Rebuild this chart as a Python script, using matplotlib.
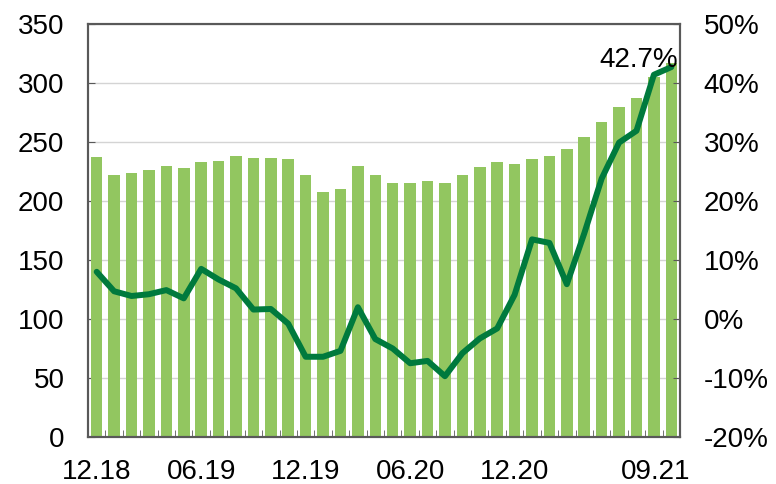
import matplotlib
matplotlib.use("Agg")
import matplotlib.pyplot as plt
import numpy as np

plt.rcParams['font.family'] = ['Liberation Sans', 'DejaVu Sans']

# monthly values, 12.18 .. 09.21
bar_values = [237, 222, 223.5, 226, 230, 228, 233, 234, 238.5, 236.5, 236.5, 236,
              222, 207.5, 210.5, 230, 222, 215.5, 215.5, 217, 215.5, 222, 228.5, 233,
              231, 235.5, 238, 244, 254, 267, 280, 287, 305, 317]
yoy_pct = [8.0, 4.7, 3.9, 4.2, 4.9, 3.5, 8.5, 6.7, 5.2, 1.6, 1.7, -0.8,
           -6.4, -6.4, -5.4, 2.0, -3.4, -5.0, -7.5, -7.1, -9.7, -5.8, -3.3, -1.6,
           4.1, 13.5, 12.9, 5.9, 14.5, 23.8, 29.9, 31.9, 41.4, 42.7]
tick_labels = ["12.18", "06.19", "12.19", "06.20", "12.20", "09.21"]
tick_pos = [0, 6, 12, 18, 24, 32.1]
last_label = "42.7%"

bar_color = "#92C660"
line_color = "#007A3D"
spine_color = "#595959"
fs = 20

fig = plt.figure(figsize=(7.76, 4.84), dpi=100)
ax = fig.add_axes([0.1134, 0.0971, 0.7629, 0.8533])
ax2 = ax.twinx()

x = np.arange(len(bar_values))
ax.bar(x, bar_values, width=0.66, color=bar_color, zorder=2)
ax2.plot(x, yoy_pct, color=line_color, lw=4.3, solid_joinstyle='round',
         solid_capstyle='round', zorder=3)
ax2.annotate(last_label, xy=(x[-1], yoy_pct[-1]), xytext=(4.5, 0),
             textcoords='offset points', ha='right', va='baseline', fontsize=fs)

ax.set_xlim(-0.5, len(bar_values) - 0.5)
ax.set_ylim(0, 350)
ax.set_yticks(np.arange(0, 351, 50))
ax2.set_ylim(-20, 50)
ax2.set_yticks(np.arange(-20, 51, 10))
ax2.set_yticklabels([f"{v}%" for v in range(-20, 51, 10)])

ax.grid(axis='y', color='#D4D4D4', lw=1, zorder=0)
ax.set_axisbelow(True)

ax.set_xticks(tick_pos)
ax.set_xticklabels(tick_labels)
ax.set_xticks(np.arange(0.5, len(bar_values) - 1, 1), minor=True)
ax.tick_params(axis='x', which='major', length=0, pad=16, labelsize=fs)
ax.tick_params(axis='x', which='minor', direction='in', length=5, color=spine_color)
ax.tick_params(axis='y', direction='in', length=5, color=spine_color, labelsize=fs, pad=17)
ax2.tick_params(axis='y', direction='in', length=5, color=spine_color, labelsize=fs, pad=17)

for a in (ax, ax2):
    for s in a.spines.values():
        s.set_color(spine_color)
        s.set_linewidth(1.5)

fig.savefig("out.png", dpi=100)
